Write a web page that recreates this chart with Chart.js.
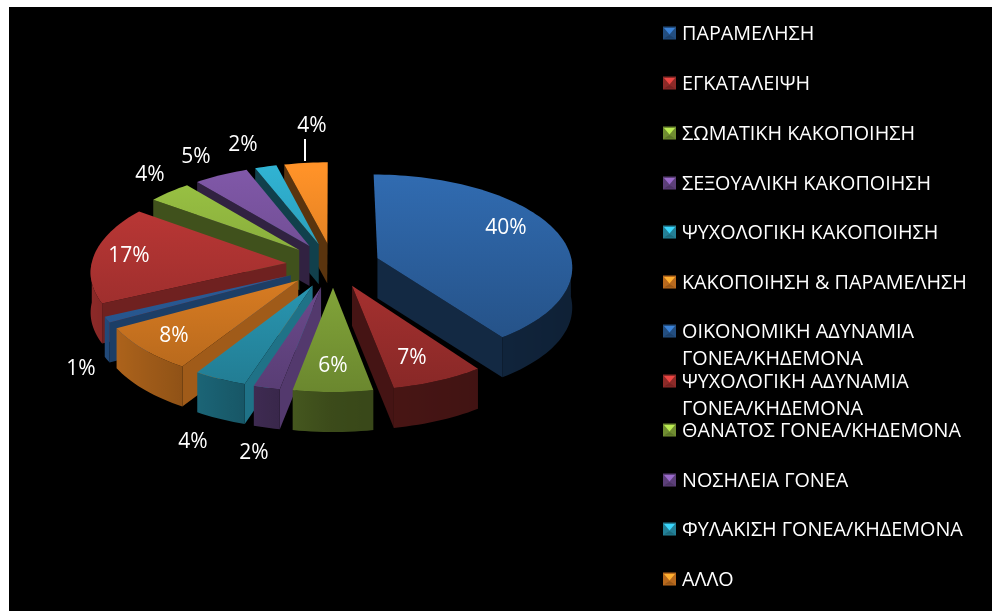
<!DOCTYPE html>
<html>
<head>
<meta charset="utf-8">
<title>Pie</title>
<script src="https://cdn.jsdelivr.net/npm/chart.js"></script>
<style>
  html, body { margin: 0; padding: 0; background: #fff; }
  #wrap { position: absolute; left: 9px; top: 7px; width: 983px; height: 604px; background: #000; overflow: hidden; }
</style>
</head>
<body>
<div id="wrap"><canvas id="pieChart" width="983" height="604"></canvas></div>
<script>
const categories = [
  'ΠΑΡΑΜΕΛΗΣΗ',
  'ΕΓΚΑΤΑΛΕΙΨΗ',
  'ΣΩΜΑΤΙΚΗ ΚΑΚΟΠΟΙΗΣΗ',
  'ΣΕΞΟΥΑΛΙΚΗ ΚΑΚΟΠΟΙΗΣΗ',
  'ΨΥΧΟΛΟΓΙΚΗ ΚΑΚΟΠΟΙΗΣΗ',
  'ΚΑΚΟΠΟΙΗΣΗ & ΠΑΡΑΜΕΛΗΣΗ',
  ['ΟΙΚΟΝΟΜΙΚΗ ΑΔΥΝΑΜΙΑ', 'ΓΟΝΕΑ/ΚΗΔΕΜΟΝΑ'],
  ['ΨΥΧΟΛΟΓΙΚΗ ΑΔΥΝΑΜΙΑ', 'ΓΟΝΕΑ/ΚΗΔΕΜΟΝΑ'],
  'ΘΑΝΑΤΟΣ ΓΟΝΕΑ/ΚΗΔΕΜΟΝΑ',
  'ΝΟΣΗΛΕΙΑ ΓΟΝΕΑ',
  'ΦΥΛΑΚΙΣΗ ΓΟΝΕΑ/ΚΗΔΕΜΟΝΑ',
  'ΑΛΛΟ'
];
const values = [40, 7, 6, 2, 4, 8, 1, 17, 4, 5, 2, 4];
const colors = [
  [49, 108, 178], [196, 58, 56], [155, 196, 68], [128, 88, 168],
  [48, 178, 210], [255, 146, 40], [49, 108, 178], [196, 58, 56],
  [155, 196, 68], [128, 88, 168], [48, 178, 210], [255, 146, 40]
];
// where the percent labels sit, in page pixels (centre of text)
const labelSpots = [
  [506, 228], [412, 358], [333, 366], [254, 453], [193, 442], [174, 336],
  [81, 369], [129, 256], [150, 175], [196, 157], [243, 145], [312, 126]
];
const legendRows = [33, 83, 133, 183, 232, 282, 331, 381, 430, 480, 529, 579];

const PAGE_X = 9, PAGE_Y = 7;
const DEPTH = 40, TILT = 0.475, PERSP = 0.085;

function shade(c, f) {
  return 'rgb(' + c.map(v => Math.min(255, Math.round(v * f))).join(',') + ')';
}

// flat pie plane -> screen, with a little perspective towards the viewer
function project(el, x, z, drop) {
  const p = 1 + PERSP * z / el.outerRadius;
  return [el.x + x * p, el.y + z * TILT * p + drop];
}

function poly(ctx, pts, fill) {
  ctx.beginPath();
  pts.forEach((pt, i) => i ? ctx.lineTo(pt[0], pt[1]) : ctx.moveTo(pt[0], pt[1]));
  ctx.closePath();
  ctx.fillStyle = fill;
  ctx.fill();
}

function drawSlice(ctx, el, col) {
  const a0 = el.startAngle + Math.PI / 2, a1 = el.endAngle + Math.PI / 2;
  const mid = (a0 + a1) / 2, R = el.outerRadius, off = el.options.offset;
  const ox = Math.sin(mid) * off, oz = -Math.cos(mid) * off;
  const rim = a => [ox + Math.sin(a) * R, oz - Math.cos(a) * R];
  const steps = Math.max(4, Math.ceil((a1 - a0) / 0.03));
  const angles = [];
  for (let i = 0; i <= steps; i++) angles.push(a0 + (a1 - a0) * i / steps);

  // radial cut faces
  const face = (a, nx) => {
    const r = rim(a), f = 0.5 + 0.15 * nx;
    poly(ctx, [project(el, ox, oz, 0), project(el, r[0], r[1], 0),
      project(el, r[0], r[1], DEPTH), project(el, ox, oz, DEPTH)], shade(col, f));
  };
  if (Math.sin(a0) < 0) face(a0, -Math.cos(a0));
  if (Math.sin(a1) > 0) face(a1, Math.cos(a1));

  // outer wall, front facing part only, one polygon with a sideways gradient
  const front = angles.filter(a => Math.cos(a) <= 0.02);
  if (front.length > 1) {
    const upper = front.map(a => { const r = rim(a); return project(el, r[0], r[1], 0); });
    const lower = front.map(a => { const r = rim(a); return project(el, r[0], r[1], DEPTH); }).reverse();
    const xs = upper.map(p => p[0]);
    const minX = Math.min(...xs), maxX = Math.max(...xs);
    const g = ctx.createLinearGradient(minX, 0, maxX, 0);
    front.forEach((a, i) => {
      const nx = Math.sin(a);
      const f = nx >= 0 ? 0.38 - 0.08 * nx : 0.38 - 0.34 * nx;
      g.addColorStop((xs[i] - minX) / (maxX - minX || 1), shade(col, f));
    });
    poly(ctx, upper.concat(lower), g);
  }

  // top surface
  const top = [project(el, ox, oz, 0)];
  angles.forEach(a => { const r = rim(a); top.push(project(el, r[0], r[1], 0)); });
  const g = ctx.createLinearGradient(0, 170 - PAGE_Y, 0, 400 - PAGE_Y);
  g.addColorStop(0, shade(col, 1));
  g.addColorStop(1, shade(col, 0.68));
  poly(ctx, top, g);
}

const pie3d = {
  id: 'pie3d',
  beforeDatasetsDraw(chart) {
    const ctx = chart.ctx;
    const arcs = chart.getDatasetMeta(0).data;
    const order = arcs.map((el, i) => i).sort((a, b) => {
      const ma = (arcs[a].startAngle + arcs[a].endAngle) / 2 + Math.PI / 2;
      const mb = (arcs[b].startAngle + arcs[b].endAngle) / 2 + Math.PI / 2;
      return Math.cos(mb) - Math.cos(ma);
    });
    ctx.save();
    order.forEach(i => drawSlice(ctx, arcs[i], colors[i]));
    ctx.restore();
    return false;
  },
  afterDraw(chart) {
    const ctx = chart.ctx;
    ctx.save();
    ctx.textBaseline = 'middle';

    // percent labels
    ctx.fillStyle = '#fff';
    ctx.font = '21px "Open Sans"';
    ctx.textAlign = 'center';
    values.forEach((v, i) => {
      ctx.fillText(v + '%', labelSpots[i][0] - PAGE_X, labelSpots[i][1] - PAGE_Y);
    });
    // leader for the last slice
    ctx.strokeStyle = '#fff';
    ctx.lineWidth = 2;
    ctx.beginPath();
    ctx.moveTo(305 - PAGE_X, 139 - PAGE_Y);
    ctx.lineTo(305 - PAGE_X, 161 - PAGE_Y);
    ctx.stroke();

    // legend
    ctx.textAlign = 'left';
    ctx.font = '19.8px "Open Sans"';
    categories.forEach((name, i) => {
      const y = legendRows[i] - PAGE_Y, x = 663 - PAGE_X, s = 13;
      const c = colors[i], t = y - s / 2, cx = x + s / 2, cy = t + s / 2;
      poly(ctx, [[x, t], [x + s, t], [x + s, t + s], [x, t + s]], shade(c, 0.72));
      poly(ctx, [[x + 1, t + 1.5], [x + s - 1, t + 1.5], [cx, cy + 1.5]], shade(c, 1.2));
      poly(ctx, [[x + 1, t + s - 1], [x + s - 1, t + s - 1], [cx, cy + 2]], shade(c, 0.6));
      ctx.fillStyle = '#fff';
      const lines = Array.isArray(name) ? name : [name];
      lines.forEach((line, k) => ctx.fillText(line, 682 - PAGE_X, y + 1 + k * 27));
    });
    ctx.restore();
  }
};

new Chart(document.getElementById('pieChart'), {
  type: 'pie',
  data: {
    labels: categories,
    datasets: [{
      data: values,
      radius: 195,
      offset: 47,
      borderWidth: 0,
      backgroundColor: colors.map(c => shade(c, 1))
    }]
  },
  options: {
    responsive: false,
    animation: false,
    layout: { padding: { right: 335, bottom: 88 } },
    plugins: {
      legend: { display: false },
      tooltip: { enabled: false }
    }
  },
  plugins: [pie3d]
});
</script>
</body>
</html>
